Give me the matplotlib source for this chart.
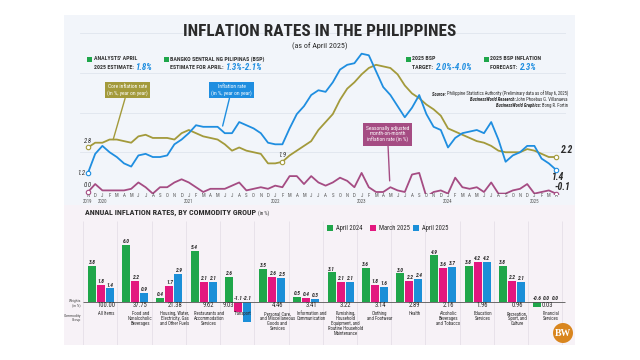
import matplotlib
matplotlib.use('Agg')
import matplotlib.pyplot as plt
from matplotlib import font_manager
from matplotlib.patches import Rectangle, Ellipse

# pick a narrow/condensed face if one is installed
fonts = font_manager.fontManager.ttflist
names = {f.name for f in fonts}
NARROW, STRETCH = 'DejaVu Sans', 'normal'
for c in ['Roboto Condensed', 'Open Sans Condensed', 'Liberation Sans Narrow',
          'Noto Sans Condensed', 'DejaVu Sans Condensed']:
    if c in names:
        NARROW = c
        break
else:
    cond = [f.name for f in fonts if f.stretch in ('condensed', 'semi-condensed', 'extra-condensed')
            and f.name in ('DejaVu Sans', 'Noto Sans', 'Roboto', 'Open Sans', 'Liberation Sans')]
    if cond:
        NARROW, STRETCH = cond[0], 'condensed'
plt.rcParams['font.family'] = [NARROW, 'DejaVu Sans']
plt.rcParams['font.stretch'] = STRETCH

# ---- monthly data, Nov 2019 - Apr 2025 ----
month_letters = ['N', 'D'] + list('JFMAMJJASOND') * 5 + list('JFMA')
years = ['2019', '2020', '2021', '2022', '2023', '2024', '2025']
year_idx = [0, 2, 14, 26, 38, 50, 62]

headline = [1.2, 2.4, 2.9, 2.5, 2.2, 1.8, 1.6, 2.3, 2.4, 2.2, 2.2, 2.3,
            3.0, 3.3, 3.7, 4.2, 4.1, 4.1, 4.1, 3.7, 3.7, 4.4, 4.2, 4.0,
            3.7, 3.1, 3.0, 3.0, 4.0, 4.9, 5.4, 6.1, 6.4, 6.3, 6.9, 7.7,
            8.0, 8.1, 8.7, 8.6, 7.6, 6.6, 6.1, 5.4, 4.7, 5.3, 6.1, 4.9,
            4.1, 3.9, 2.8, 3.4, 3.7, 3.8, 3.9, 3.7, 4.4, 3.3, 1.9, 2.3,
            2.5, 2.9, 2.9, 2.1, 1.8, 1.4]
core = [2.8, 3.1, 3.1, 3.3, 3.3, 3.2, 3.1, 3.5, 3.6, 3.4, 3.4, 3.4,
        3.3, 3.7, 3.9, 3.7, 3.5, 3.4, 3.3, 3.0, 2.6, 2.8, 2.6, 2.5,
        2.4, 1.8, 1.8, 1.9, 2.3, 2.6, 2.9, 3.2, 3.9, 4.4, 4.9, 5.8,
        6.5, 6.9, 7.4, 7.8, 8.0, 7.9, 7.8, 7.4, 6.7, 6.2, 5.9, 5.5,
        5.2, 4.8, 4.0, 3.8, 3.6, 3.4, 3.2, 3.1, 2.9, 2.6, 2.5, 2.5,
        2.5, 2.7, 2.6, 2.4, 2.2, 2.2]
mom = [0.0, 0.5, 0.1, 0.1, 0.1, 0.1, 0.2, 0.6, 0.3, -0.1, 0.3, 0.3,
       0.6, 0.8, 0.6, 0.3, 0.0, 0.2, 0.2, 0.2, 0.4, 0.6, 0.1, 0.2,
       0.3, 0.2, 0.4, 0.3, 1.0, 1.0, 0.5, 1.0, 0.6, 0.4, 0.6, 0.9,
       0.7, 0.3, 1.2, 0.3, 0.0, 0.0, 0.3, 0.1, 0.0, 1.1, 1.2, -0.3,
       0.0, 0.1, -0.1, 0.9, 0.3, 0.2, 0.3, 0.0, 0.6, -0.1, -0.1, 0.1,
       0.2, 0.5, -0.1, 0.0, 0.1, -0.1]

# ---- commodity groups ----
groups = ['All Items', 'Food and\nNonalcoholic\nBeverages',
          'Housing, Water,\nElectricity, Gas\nand Other Fuels',
          'Restaurants and\nAccommodation\nServices', 'Transport',
          'Personal Care,\nand Miscellaneous\nGoods and\nServices',
          'Information and\nCommunication',
          'Furnishing,\nHousehold\nEquipment, and\nRoutine Household\nMaintenance',
          'Clothing\nand Footwear', 'Health',
          'Alcoholic\nBeverages\nand Tobacco', 'Education\nServices',
          'Recreation,\nSport, and\nCulture', 'Financial\nServices']
weights = ['100.00', '37.75', '21.38', '9.62', '9.03', '4.46', '3.41',
           '3.22', '3.14', '2.89', '2.16', '1.96', '0.96', '0.03']
apr2024 = [3.8, 6.0, 0.4, 5.4, 2.6, 3.5, 0.5, 3.1, 3.6, 3.0, 4.9, 3.8, 3.8, -0.6]
mar2025 = [1.8, 2.2, 1.7, 2.1, -1.1, 2.6, 0.4, 2.1, 1.8, 2.2, 3.6, 4.2, 2.2, 0.0]
apr2025 = [1.4, 0.9, 2.9, 2.1, -2.1, 2.5, 0.3, 2.1, 1.6, 2.4, 3.7, 4.2, 2.1, 0.0]

GREEN = '#1fa64a'
PINK = '#e3177f'
BLUEBAR = '#1b8fd8'
BLUE = '#1f8ee0'
OLIVE = '#a39a3b'
MOM = '#a54c83'
DARK = '#2a2a2a'

fig = plt.figure(figsize=(6.4, 3.6), dpi=100)
W, H = 640, 360
R = fig.canvas.get_renderer()


def ftext(px, py, s, **kw):
    return fig.text(px / W, 1 - py / H, s, **kw)


def fit(t, width):
    # scale a text's size so it spans the given pixel width
    w = t.get_window_extent(R).width
    t.set_fontsize(t.get_fontsize() * width / w)
    return t.get_fontsize()


def pair(px, py, a, b, kwa, kwb):
    t = ftext(px, py, a, ha='left', va='center', **kwa)
    bb = t.get_window_extent(R)
    fig.text(bb.x1 / W, 1 - py / H, b, ha='left', va='center', **kwb)


def rpair(px, py, a, b, kwa, kwb):
    t = ftext(px, py, b, ha='right', va='center', **kwb)
    bb = t.get_window_extent(R)
    fig.text(bb.x0 / W, 1 - py / H, a, ha='right', va='center', **kwa)


# panel background
fig.add_artist(Rectangle((64 / W, 1 - 345 / H), 511 / W, 330 / H, transform=fig.transFigure,
                         facecolor='#f2f5fa', edgecolor='none', zorder=0))
fig.add_artist(Rectangle((64 / W, 1 - 345 / H), 511 / W, 140 / H, transform=fig.transFigure,
                         facecolor='#f7f2f7', edgecolor='none', zorder=0))

# ---- title ----
t = ftext(320, 31, 'INFLATION RATES IN THE PHILIPPINES', ha='center', va='center',
          fontsize=15, fontweight='bold', color=DARK)
fit(t, 276)
ftext(320, 46, '(as of April 2025)', ha='center', va='center', fontsize=5.8, color=DARK)

probe = ftext(0, 0, 'BANGKO SENTRAL NG PILIPINAS (BSP)', fontsize=5, fontweight='bold')
nfs = fit(probe, 94)
probe.remove()
hd = dict(fontsize=nfs, fontweight='bold', color='#333333')
vd = dict(fontsize=nfs * 1.5, fontweight='bold', style='italic', color=BLUE)
notes = [(87, "ANALYSTS' APRIL", '2025 ESTIMATE: ', '1.8%'),
         (164, 'BANGKO SENTRAL NG PILIPINAS (BSP)', 'ESTIMATE FOR APRIL: ', '1.3%-2.1%'),
         (406, '2025 BSP', 'TARGET: ', '2.0%-4.0%'),
         (484, '2025 BSP INFLATION', 'FORECAST: ', '2.3%')]
for x0, l1, l2, val in notes:
    fig.add_artist(Rectangle((x0 / W, 1 - 61.5 / H), 4.5 / W, 4.5 / H, transform=fig.transFigure,
                             facecolor=GREEN, edgecolor='none'))
    ftext(x0 + 6.5, 59, l1, ha='left', va='center', **hd)
    pair(x0 + 6.5, 67.5, l2, val, hd, vd)

# ---- line chart ----
ax = fig.add_axes([80 / W, 1 - 194 / H, 486 / W, 164 / H])
ax.patch.set_alpha(0)
ax.set_xlim(-8 / 7.2, 65 + 10 / 7.2)
ax.set_ylim(-0.126, 10.19)
for s in ax.spines.values():
    s.set_visible(False)
ax.set_xticks([])
ax.set_yticks([])
x = list(range(len(headline)))
for g in [2.5, 5, 7.5, 10]:
    ax.axhline(g, color='#dfe5ee', lw=0.6, zorder=0)

ax.plot(x, mom, color=MOM, lw=1.3, zorder=2)
ax.plot(x, core, color=OLIVE, lw=1.3, zorder=3)
ax.plot(x, headline, color=BLUE, lw=1.3, zorder=4)
mk = dict(marker='o', ls='none', mfc='white', ms=3.2, mew=0.8, zorder=5)
ax.plot([0, 27, 65], [core[0], core[27], core[-1]], mec=OLIVE, **mk)
ax.plot([0, 65], [headline[0], headline[-1]], mec=BLUE, **mk)
ax.plot([0, 65], [mom[0], mom[-1]], mec=MOM, **mk)

sl = dict(textcoords='offset points', ha='center', va='center', fontsize=4.8,
          style='italic', color=DARK)
ax.annotate(f'{core[0]:.1f}', (0, core[0]), xytext=(0, 5), **sl)
ax.annotate(f'{core[27]:.1f}', (27, core[27]), xytext=(0, 5), **sl)
ax.annotate(f'{headline[0]:.1f}', (0, headline[0]), xytext=(-5, 0), **sl)
ax.annotate(f'{mom[0]:.1f}', (0, mom[0]), xytext=(0, 5), **sl)
el = dict(sl, fontsize=7, fontweight='bold')
ax.annotate(f'{core[-1]:.1f}', (65, core[-1]), xytext=(7, 5), **el)
ax.annotate(f'{headline[-1]:.1f}', (65, headline[-1]), xytext=(1.5, -5.5), **el)
ax.annotate(f'{mom[-1]:.1f}', (65, mom[-1]), xytext=(4.5, 5), **el)

xt = ax.get_xaxis_transform()
for i, m in enumerate(month_letters):
    ax.text(i, -0.012, m, transform=xt, ha='center', va='center', fontsize=3.5, color='#555555')
for yi, yl in zip(year_idx, years):
    ax.text(yi, -0.043, yl, transform=xt, ha='center', va='center', fontsize=3.5, color='#555555')

bx_style = dict(textcoords='figure pixels', ha='center', va='center', color='white',
                fontsize=4.0, linespacing=1.2)
ax.annotate('Core inflation rate\n(in %, year on year)', (3.5, 3.3), xytext=(127.5, H - 90),
            bbox=dict(boxstyle='square,pad=0.45', fc=OLIVE, ec='none'),
            arrowprops=dict(arrowstyle='-', color=OLIVE, lw=1.0, shrinkA=0, shrinkB=0), **bx_style)
ax.annotate('Inflation rate\n(in %, year on year)', (18.7, 4.15), xytext=(231.5, H - 90),
            bbox=dict(boxstyle='square,pad=0.45', fc=BLUE, ec='none'),
            arrowprops=dict(arrowstyle='-', color=BLUE, lw=1.0, shrinkA=0, shrinkB=0), **bx_style)
ax.annotate('Seasonally adjusted\nmonth-on-month\ninflation rate (in %)', (41.9, 0.7),
            xytext=(387.5, H - 134.5),
            bbox=dict(boxstyle='square,pad=0.45', fc=MOM, ec='none'),
            arrowprops=dict(arrowstyle='-', color=MOM, lw=1.0, shrinkA=0, shrinkB=0), **bx_style)

probe = ftext(0, 0, 'Source: Philippine Statistics Authority (Preliminary data as of May 6, 2025)', fontsize=4)
sfs = fit(probe, 135)
probe.remove()
srcb = dict(fontsize=sfs, fontweight='bold', style='italic', color=DARK)
srcr = dict(fontsize=sfs, color=DARK)
rpair(568, 94, 'Source: ', 'Philippine Statistics Authority (Preliminary data as of May 6, 2025)', srcb, srcr)
rpair(568, 99.5, 'BusinessWorld Research: ', 'John Phoebus G. Villanueva', srcb, srcr)
rpair(568, 105, 'BusinessWorld Graphics: ', 'Bong R. Fortin', srcb, srcr)

# ---- bar chart ----
probe = ftext(0, 0, 'ANNUAL INFLATION RATES, BY COMMODITY GROUP', fontsize=7, fontweight='bold')
hfs = fit(probe, 168)
probe.remove()
pair(85, 213, 'ANNUAL INFLATION RATES, BY COMMODITY GROUP ', '(in %)',
     dict(fontsize=hfs, fontweight='bold', color=DARK), dict(fontsize=3.6, color=DARK))

bx = fig.add_axes([64 / W, 1 - 345 / H, 511 / W, 130 / H])
bx.patch.set_alpha(0)
bx.set_xlim(-1.081, 13.848)
bx.set_ylim(-4.587, 9.184)
for s in bx.spines.values():
    s.set_visible(False)
bx.set_xticks([])
bx.set_yticks([])

k = list(range(len(groups)))
bw, off = 0.234, 0.263
bx.vlines([i - 0.52 for i in range(len(groups) + 1)], -4.587, 8.6, color='#e6e0e8', lw=0.6, zorder=0)
series = [(apr2024, GREEN, 'April 2024', -off), (mar2025, PINK, 'March 2025', 0),
          (apr2025, BLUEBAR, 'April 2025', off)]
for vals, col, lab, o in series:
    bx.bar([i + o for i in k], vals, width=bw, color=col, label=lab, zorder=2)
    for i, v in zip(k, vals):
        yy = v if v > 0 else 0
        bx.annotate(f'{v:.1f}', (i + o, yy), xytext=(0, 0.6), textcoords='offset points',
                    ha='center', va='bottom', fontsize=4.0, style='italic', fontweight='bold',
                    color=DARK)
bx.hlines(0, -0.53, 13.55, color='#555555', lw=0.6, zorder=3)

for i, (g, wt) in enumerate(zip(groups, weights)):
    wx = i + 0.15
    if i == 4:
        wx = i - 0.28
    if i == 13:
        wx = i + 0.05
    bx.text(wx, -0.37, wt, ha='center', va='center', fontsize=4.8, color=DARK)
    bx.text(i + 0.15, -1.0, g, ha='center', va='top', fontsize=3.4, color=DARK, linespacing=1.0)

ftext(81, 303, 'Weights\n(in %)', ha='right', va='center', fontsize=2.8, color='#444444', linespacing=1.0)
ftext(81, 318, 'Commodity\nGroup', ha='right', va='center', fontsize=2.8, color='#444444', linespacing=1.0)

# legend
for lx, col, lab in [(327, GREEN, 'April 2024'), (370, PINK, 'March 2025'), (413, BLUEBAR, 'April 2025')]:
    fig.add_artist(Rectangle((lx / W, 1 - 231 / H), 6 / W, 6 / H, transform=fig.transFigure,
                             facecolor=col, edgecolor='none'))
    ftext(lx + 9, 228, lab, ha='left', va='center', fontsize=4.8, color=DARK)

# logo
fig.add_artist(Ellipse((563 / W, 1 - 333 / H), 20 / W, 20 / H, transform=fig.transFigure,
                       facecolor='#d9861f', edgecolor='none'))
ftext(563, 333, 'BW', ha='center', va='center', fontsize=7, fontweight='bold',
      color='white', family=['Liberation Serif', 'DejaVu Serif'])

fig.savefig('out.png', dpi=100)
